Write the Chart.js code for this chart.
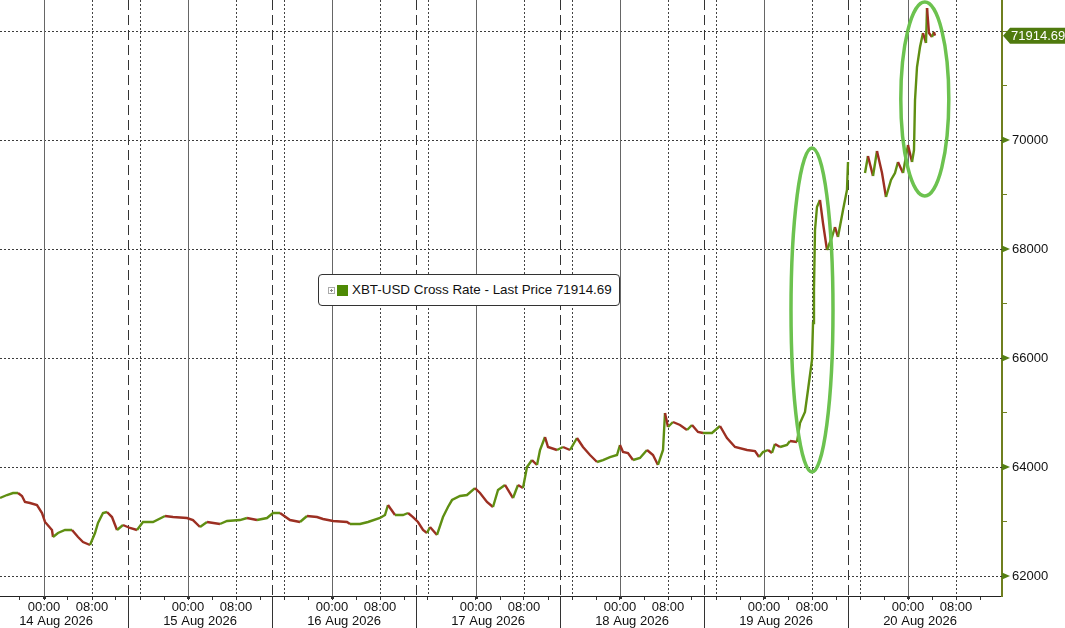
<!DOCTYPE html>
<html>
<head>
<meta charset="utf-8">
<script src="https://cdn.jsdelivr.net/npm/chart.js@4.4.0/dist/chart.umd.min.js"></script>
<style>
html, body { margin: 0; padding: 0; background: #fff; }
#wrap { position: relative; width: 1065px; height: 628px; }
#legend { position: absolute; left: 318px; top: 274px; width: 302px; height: 32px; box-sizing: border-box;
  border: 1px solid #333; border-radius: 4px; background: #fff;
  font: 13.4px "Liberation Sans", Arial, sans-serif; color: #111; }
#legend .plus { position: absolute; left: 9px; top: 12px; width: 5px; height: 5px; border: 1px solid #aaa; }
#legend .plus:before { content: ''; position: absolute; left: 1px; top: 2px; width: 3px; height: 1px; background: #888; }
#legend .plus:after { content: ''; position: absolute; left: 2px; top: 1px; width: 1px; height: 3px; background: #888; }
#legend .sw { position: absolute; left: 18px; top: 10px; width: 11px; height: 11px; background: #4e8a05; }
#legend .txt { position: absolute; left: 33px; top: 7px; white-space: nowrap; }
</style>
</head>
<body>
<div id="wrap">
  <canvas id="xbt_chart" width="1065" height="628"></canvas>
  <div id="legend"><span class="plus"></span><span class="sw"></span><span class="txt" id="legend_txt"></span></div>
</div>
<script>
// hours counted from 14 Aug 2026 00:00
var hoursFrom14Aug = [-7.33,-6.17,-5.17,-4.33,-3.67,-3.17,-2.33,-1.17,-0.33,0.17,
    1.33,1.5,2.33,3.5,4.67,5.67,6.5,7.67,8.5,9,
    9.83,10.5,11.33,12.17,13.17,14.33,15.5,16.5,18.17,20.17,
    21.5,23.83,24.83,26,27.17,29.33,30.5,32.67,33.83,35.5,
    37.17,38.17,39.33,41,42.67,43.83,45.5,46.5,48.17,50.5,
    51,52.67,54,56,56.83,57.33,58.5,59.83,60.67,61.5,
    62.33,63.17,63.83,64.33,65.5,66.5,67.33,68,69.33,70.5,
    71.83,72.67,73.83,74.83,75.67,76.83,78.17,79,79.83,80.5,
    81.33,82.17,82.67,83.5,84,85.5,86.5,87.67,88.83,89.83,
    91,92.17,93.17,94.33,95.5,96,96.5,97.33,98.17,99.33,
    100.5,101.5,102.33,103.17,103.5,104,104.83,106,107.17,108,
    109,109.83,111.33,112.67,113.83,115.17,117.17,118.5,119.17,119.83,
    120.67,121.33,121.83,122.67,123.83,124.33,125.5,126,126.83,127.33,
    128,128.17,128.33,128.5,128.83,129.33,129.83,130.5,131.33,131.83,
    132.33,133.17,133.83,134,135.4,136.83,137.33,138.17,138.83,139.67,
    140.33,141.17,141.83,142.33,143.17,144,144.67,145,145.17,145.5,
    146,146.5,147,147.17,147.5,148,148.33,148.5];

var xbtPrice = [63431,63486,63523,63523,63468,63358,63339,63303,63156,62991,
    62844,62715,62789,62844,62844,62715,62624,62569,62789,62972,
    63156,63174,63082,62844,62936,62881,62844,62991,62991,63101,
    63082,63064,63027,62899,62991,62954,63009,63027,63064,63027,
    63064,63156,63156,63027,62991,63101,63082,63046,63009,62991,
    62954,62954,62991,63064,63119,63303,63119,63119,63156,63082,
    62991,62844,62789,62899,62753,63082,63266,63394,63468,63486,
    63614,63523,63358,63266,63578,63670,63431,63670,63614,64000,
    64128,64037,64312,64550,64367,64312,64367,64312,64532,64367,
    64220,64092,64128,64183,64220,64404,64275,64257,64128,64165,
    64312,64220,64037,64312,64991,64734,64826,64771,64679,64771,
    64642,64624,64624,64752,64532,64367,64312,64293,64183,64275,
    64312,64257,64422,64367,64404,64477,64459,64807,65009,65413,
    65963,66642,67248,68349,68771,68899,68477,67982,68220,68404,
    68220,68716,69083,69596,null,69394,69706,69339,69798,69394,
    68954,69266,69394,69596,69394,69908,69596,69816,70734,71339,
    71706,71963,71780,72422,71963,71890,71982,71914.69];

var lastPrice = 71914.69;
var seriesName = 'XBT-USD Cross Rate - Last Price';

var dayNames = ['14 Aug 2026','15 Aug 2026','16 Aug 2026','17 Aug 2026','18 Aug 2026','19 Aug 2026','20 Aug 2026'];
var priceTicks = [62000,63000,64000,65000,66000,67000,68000,69000,70000,71000,72000];

// the two green rings drawn round the jumps (centre and half size, in hours / price)
var ringHour = [128, 146.8];
var ringPrice = [66881, 70752];
var ringHalfHours = [3.5, 4];
var ringHalfPrice = [2972, 1780];

var upColor = '#5f8f12';
var downColor = '#9c2f22';

document.getElementById('legend_txt').textContent = seriesName + ' ' + lastPrice.toFixed(2);

var points = [];
for (var i = 0; i < hoursFrom14Aug.length; i++) {
    points.push({x: hoursFrom14Aug[i], y: xbtPrice[i]});
}

var hourTicks = [];
for (var h = -4; h <= 156; h += 4) hourTicks.push(h);

function hline(ctx, x1, y1, x2, y2) {
    ctx.beginPath(); ctx.moveTo(x1, y1); ctx.lineTo(x2, y2); ctx.stroke();
}

function noPad(s) {
    s.paddingTop = 0; s.paddingBottom = 0; s.paddingLeft = 0; s.paddingRight = 0;
}

var framePlugin = {
    id: 'frame',
    beforeDatasetsDraw: function (chart) {
        var ctx = chart.ctx, a = chart.chartArea, x = chart.scales.x, y = chart.scales.y;
        ctx.save();
        ctx.beginPath(); ctx.rect(a.left, a.top, a.right - a.left, a.bottom - a.top); ctx.clip();
        ctx.lineWidth = 1;
        // price grid
        ctx.strokeStyle = '#3c3c3c'; ctx.setLineDash([2, 2]);
        priceTicks.forEach(function (v) {
            if (v % 2000 !== 0) return;
            var py = Math.round(y.getPixelForValue(v)) + 0.5;
            hline(ctx, a.left, py, a.right, py);
        });
        for (var d = 0; d < dayNames.length; d++) {
            var base = d * 24;
            // midnight
            ctx.setLineDash([]); ctx.strokeStyle = '#666';
            var px = Math.round(x.getPixelForValue(base)) + 0.5;
            hline(ctx, px, a.top, px, a.bottom);
            // 08:00 and 16:00
            ctx.setLineDash([2, 2]); ctx.strokeStyle = '#444';
            [base + 8, base + 16, base - 8].forEach(function (t) {
                var q = Math.round(x.getPixelForValue(t)) + 0.5;
                hline(ctx, q, a.top, q, a.bottom);
            });
            // session break
            if (d < dayNames.length - 1) {
                ctx.setLineDash([10, 5]); ctx.strokeStyle = '#333';
                var s = Math.round(x.getPixelForValue(base + 14)) + 0.5;
                hline(ctx, s, a.top, s, a.bottom);
            }
        }
        ctx.restore();
    },
    afterDatasetsDraw: function (chart) {
        var ctx = chart.ctx, x = chart.scales.x, y = chart.scales.y;
        ctx.save();
        ctx.strokeStyle = '#6cc24f'; ctx.lineWidth = 3.5;
        for (var i = 0; i < ringHour.length; i++) {
            var cx = x.getPixelForValue(ringHour[i]);
            var cy = y.getPixelForValue(ringPrice[i]);
            var rx = Math.abs(x.getPixelForValue(ringHour[i] + ringHalfHours[i]) - cx);
            var ry = Math.abs(y.getPixelForValue(ringPrice[i] + ringHalfPrice[i]) - cy);
            ctx.beginPath(); ctx.ellipse(cx, cy, rx, ry, 0, 0, Math.PI * 2); ctx.stroke();
        }
        ctx.restore();
    },
    afterDraw: function (chart) {
        var ctx = chart.ctx, a = chart.chartArea, x = chart.scales.x, y = chart.scales.y;
        ctx.save();
        // bottom: session separators and day names
        ctx.strokeStyle = '#333'; ctx.lineWidth = 1;
        for (var d = 0; d < dayNames.length - 1; d++) {
            var s = Math.round(x.getPixelForValue(d * 24 + 14)) + 0.5;
            hline(ctx, s, a.bottom, s, chart.height);
        }
        ctx.fillStyle = '#333';
        for (var k = 0; k < dayNames.length; k++) {
            var m = Math.round(x.getPixelForValue(k * 24));
            ctx.fillRect(m - 1, a.bottom, 3, 3);
        }
        ctx.fillStyle = '#111';
        ctx.font = '13px "Liberation Sans", Arial, sans-serif';
        ctx.textAlign = 'center'; ctx.textBaseline = 'middle';
        dayNames.forEach(function (n, j) {
            ctx.fillText(n, x.getPixelForValue(j * 24 + 2), 621);
        });
        // right axis markers
        ctx.fillStyle = '#557f12';
        priceTicks.forEach(function (v) {
            if (v % 2000 !== 0 || Math.abs(v - lastPrice) < 500) return;
            var py = y.getPixelForValue(v);
            ctx.beginPath(); ctx.moveTo(a.right, py - 3.5); ctx.lineTo(a.right + 8, py); ctx.lineTo(a.right, py + 3.5); ctx.closePath(); ctx.fill();
        });
        // last price tag
        var ly = y.getPixelForValue(lastPrice);
        ctx.fillStyle = '#4f7a0e';
        ctx.beginPath();
        ctx.moveTo(a.right + 1, ly); ctx.lineTo(a.right + 8, ly - 8); ctx.lineTo(chart.width, ly - 8);
        ctx.lineTo(chart.width, ly + 8); ctx.lineTo(a.right + 8, ly + 8); ctx.closePath(); ctx.fill();
        ctx.fillStyle = '#fff'; ctx.textAlign = 'left';
        ctx.fillText(lastPrice.toFixed(2), a.right + 9, ly + 1);
        ctx.restore();
    }
};

var ctx = document.getElementById('xbt_chart').getContext('2d');
var xbtChart = new Chart(ctx, {
    type: 'line',
    data: {
        datasets: [{
            label: seriesName,
            data: points,
            borderWidth: 2.4,
            borderColor: upColor,
            pointRadius: 0,
            tension: 0,
            spanGaps: false,
            segment: {
                borderColor: function (c) { return c.p1.parsed.y < c.p0.parsed.y ? downColor : upColor; }
            }
        }]
    },
    options: {
        responsive: false,
        animation: false,
        layout: {padding: 0},
        plugins: {legend: {display: false}, tooltip: {enabled: false}},
        scales: {
            x: {
                type: 'linear',
                min: -44 / 6,
                max: 958 / 6,
                afterBuildTicks: function (s) { s.ticks = hourTicks.map(function (v) { return {value: v}; }); },
                afterFit: function (s) { s.height = 32; noPad(s); },
                grid: {drawOnChartArea: false, tickLength: 4, tickColor: '#333'},
                border: {color: '#222', width: 1},
                ticks: {
                    autoSkip: false, maxRotation: 0, padding: 0, color: '#111',
                    font: {family: '"Liberation Sans", Arial, sans-serif', size: 13},
                    callback: function (v) {
                        var r = ((v % 24) + 24) % 24;
                        return r === 0 ? '00:00' : (r === 8 ? '08:00' : '');
                    }
                }
            },
            y: {
                position: 'right',
                min: 61633,
                max: 72569,
                afterBuildTicks: function (s) { s.ticks = priceTicks.map(function (v) { return {value: v}; }); },
                afterFit: function (s) { s.width = 63; noPad(s); },
                grid: {drawOnChartArea: false, tickLength: 5, tickColor: '#6f7f1f'},
                border: {color: '#6f7f1f', width: 2},
                ticks: {
                    padding: 5, color: '#111',
                    font: {family: '"Liberation Sans", Arial, sans-serif', size: 13},
                    callback: function (v) {
                        return (v % 2000 === 0 && Math.abs(v - lastPrice) > 500) ? String(v) : '';
                    }
                }
            }
        }
    },
    plugins: [framePlugin]
});
</script>
</body>
</html>
